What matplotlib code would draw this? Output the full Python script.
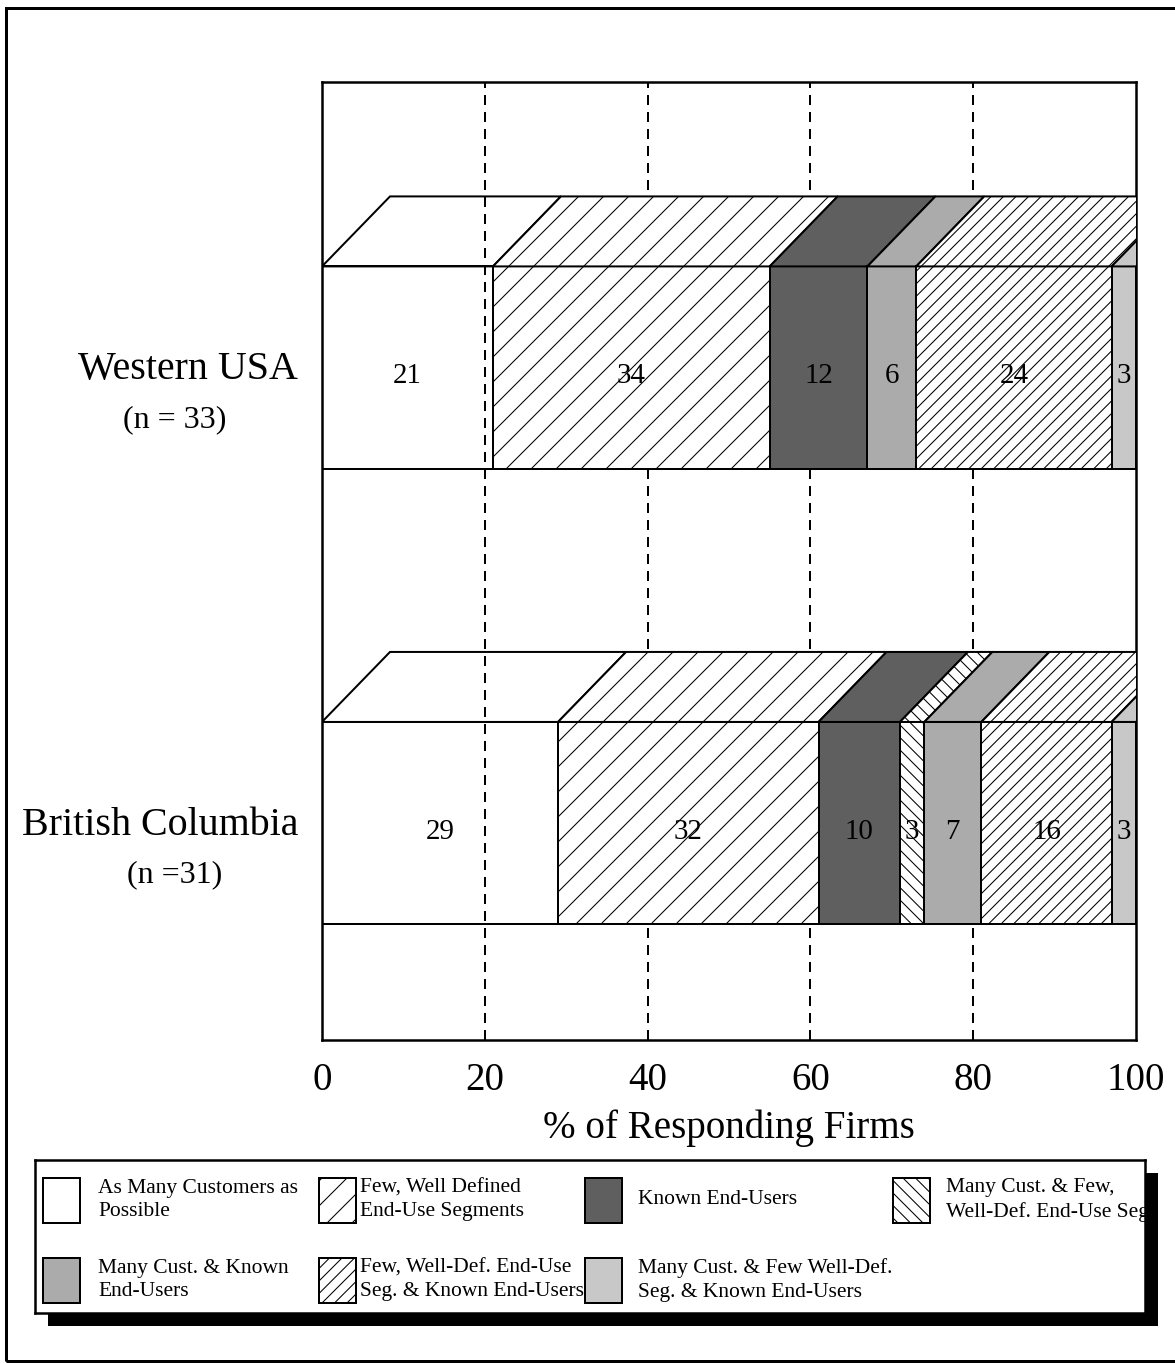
import numpy as np
import matplotlib.pyplot as plt
from matplotlib.patches import Polygon, Rectangle

plt.rcParams['font.family'] = ['Liberation Serif', 'DejaVu Serif']
plt.rcParams['hatch.linewidth'] = 1.0

# survey shares (% of responding firms) per targeting strategy
regions = ['Western USA', 'British Columbia']
sample_sizes = ['(n = 33)', '(n =31)']
categories = [
    'As Many Customers as\nPossible',
    'Few, Well Defined\nEnd-Use Segments',
    'Known End-Users',
    'Many Cust. & Few,\nWell-Def. End-Use Seg.',
    'Many Cust. & Known\nEnd-Users',
    'Few, Well-Def. End-Use\nSeg. & Known End-Users',
    'Many Cust. & Few Well-Def.\nSeg. & Known End-Users',
]
western_usa = [21, 34, 12, 0, 6, 24, 3]
british_columbia = [29, 32, 10, 3, 7, 16, 3]
x_ticks = [0, 20, 40, 60, 80, 100]

# hatch spacing in matplotlib follows dpi, so a low dpi gives a coarser pattern
DPI = 75
W, H = 1175, 1364


def pt(pixels):
    return pixels * 72 / DPI


def fx(x):
    return x / W


def fy(y):
    return 1 - y / H


fills = ['none', 'white', '#5f5f5f', 'white', '#ababab', 'white', '#c8c8c8']
hatches = [None, '/', None, '\\\\', None, '//', None]

fig = plt.figure(figsize=(W / DPI, H / DPI), dpi=DPI)

# page frame
fig.patches.append(Rectangle((fx(6), fy(1361)), (1190 - 6) / W, (1361 - 8) / H,
                             transform=fig.transFigure, fill=False,
                             edgecolor='black', lw=pt(3)))

ax_left, ax_right, ax_top, ax_bottom = 322, 1136, 82, 1040
ax = fig.add_axes([fx(ax_left), fy(ax_bottom), (ax_right - ax_left) / W,
                   (ax_bottom - ax_top) / H])
ax.set_xlim(0, 100)
ax.set_ylim(0, 1)
xpx = 100 / (ax_right - ax_left)   # data units per pixel
ypx = 1 / (ax_bottom - ax_top)

bar_y = [0.702, 0.2265]
bar_h = 0.211
depth_x = 68 * xpx
depth_y = 70 * ypx

for x in x_ticks[1:-1]:
    ax.axvline(x, color='black', lw=pt(2), linestyle=(0, (5, 3.5)), zorder=1)

for i, vals in enumerate([western_usa, british_columbia]):
    vals = np.array(vals)
    lefts = np.concatenate([[0], np.cumsum(vals)[:-1]])
    yc = bar_y[i]
    y1 = yc + bar_h / 2
    for j, (l, v) in enumerate(zip(lefts, vals)):
        if v == 0:
            continue
        ax.barh(yc, v, left=l, height=bar_h, facecolor=fills[j],
                edgecolor='black', hatch=hatches[j], linewidth=pt(2), zorder=3)
        top = Polygon([(l, y1), (l + v, y1), (l + v + depth_x, y1 + depth_y),
                       (l + depth_x, y1 + depth_y)], closed=True,
                      facecolor=fills[j], edgecolor='black', hatch=hatches[j],
                      linewidth=pt(2), zorder=3)
        ax.add_patch(top)
        ax.text(l + v / 2, yc - 9 * ypx, str(v), ha='center', va='center',
                fontsize=pt(29), zorder=4)

    ax.text(-(ax_left - 298) * xpx, yc - 2 * ypx, regions[i], ha='right',
            va='center', fontsize=pt(40), clip_on=False)
    ax.text((175 - ax_left) * xpx, yc - 52 * ypx, sample_sizes[i], ha='center',
            va='center', fontsize=pt(32), clip_on=False)

for s in ax.spines.values():
    s.set_linewidth(pt(2.5))
ax.set_yticks([])
ax.set_xticks(x_ticks)
ax.tick_params(axis='x', length=0, pad=pt(22), labelsize=pt(39))
ax.set_xlabel('% of Responding Firms', fontsize=pt(39), labelpad=pt(10))

# legend box with drop shadow
lg_l, lg_r, lg_t, lg_b = 35, 1145, 1160, 1313
sh = 13
fig.patches.append(Rectangle((fx(lg_l + sh), fy(lg_b + sh)), (lg_r - lg_l) / W,
                             (lg_b - lg_t) / H, transform=fig.transFigure,
                             facecolor='black', edgecolor='none', zorder=1))
lax = fig.add_axes([fx(lg_l), fy(lg_b), (lg_r - lg_l) / W, (lg_b - lg_t) / H])
lax.set_zorder(5)
lax.set_xlim(lg_l, lg_r)
lax.set_ylim(lg_b, lg_t)
lax.set_xticks([])
lax.set_yticks([])
for s in lax.spines.values():
    s.set_linewidth(pt(2.5))

swatch_x = [43, 319, 585, 893]
text_x = [98, 360, 638, 946]
row_y = [1178, 1258]
for k, label in enumerate(categories):
    r, c = divmod(k, 4)
    lax.add_patch(Rectangle((swatch_x[c], row_y[r]), 37, 45,
                            facecolor=fills[k], edgecolor='black',
                            hatch=hatches[k], linewidth=pt(2)))
    lax.text(text_x[c], row_y[r] + 22, label, ha='left', va='center',
             fontsize=pt(21.5), linespacing=1.3)

fig.savefig('out.png', dpi=DPI)
